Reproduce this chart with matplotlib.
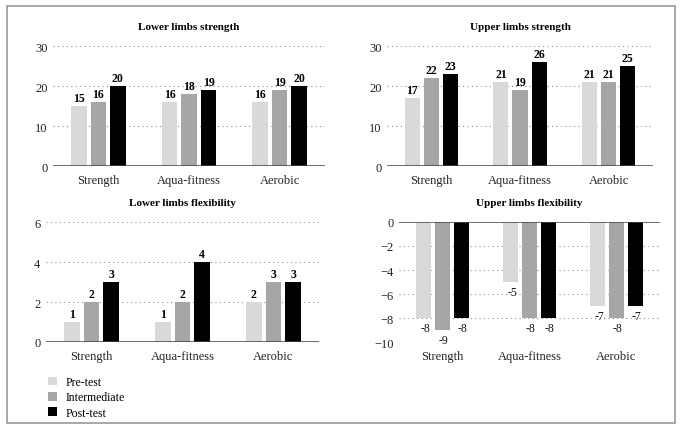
import matplotlib
matplotlib.use("Agg")
import matplotlib.pyplot as plt
from matplotlib.patches import Patch, Rectangle
import numpy as np

plt.rcParams['font.family'] = ['Liberation Serif', 'DejaVu Serif']

categories = ['Strength', 'Aqua-fitness', 'Aerobic']
series_names = ['Pre-test', 'Intermediate', 'Post-test']
colors = ['#d9d9d9', '#a6a6a6', '#000000']

lower_strength = [[15, 16, 16], [16, 18, 19], [20, 19, 20]]
upper_strength = [[17, 21, 21], [22, 19, 21], [23, 26, 25]]
lower_flex = [[1, 1, 2], [2, 2, 3], [3, 4, 3]]
upper_flex = [[-8, -5, -7], [-9, -8, -8], [-8, -8, -7]]

W, H = 683, 431
fig = plt.figure(figsize=(W / 100, H / 100), dpi=100)


def px_axes(left, right, top, bottom):
    return fig.add_axes([left / W, (H - bottom) / H, (right - left) / W, (bottom - top) / H])


def panel(ax, title, data, ylim, yticks, negative=False):
    x = np.arange(len(categories))
    width = 0.17
    step = 0.215
    for i, vals in enumerate(data):
        bars = ax.bar(x + (i - 1) * step, vals, width, color=colors[i], zorder=3)
        for b, v in zip(bars, vals):
            cx = b.get_x() + b.get_width() / 2
            if negative:
                ax.annotate(str(v), (cx, v), xytext=(1, -3), textcoords='offset points',
                            ha='center', va='top', fontsize=8.5, color='#111111')
            else:
                ax.annotate(str(v), (cx, v), xytext=(0, 1.5), textcoords='offset points',
                            ha='center', va='bottom', fontsize=8.5, fontweight='bold')
    ax.set_xlim(-0.5, 2.5)
    ax.set_ylim(*ylim)
    ax.set_yticks(yticks)
    ax.set_xticks(x)
    ax.set_xticklabels(categories)
    for s in ax.spines.values():
        s.set_visible(False)
    for t in yticks:
        if t != 0:
            ax.axhline(t, color='#8c8c8c', lw=0.8, linestyle=(0, (1, 3)), zorder=1)
    ax.axhline(0, color='#444444', lw=1.1, zorder=4)
    ax.tick_params(length=0, labelsize=9, colors='#222222')
    ax.tick_params(axis='x', pad=6)
    ax.tick_params(axis='y', pad=4)
    ax.set_title(title, fontsize=8, fontweight='bold', pad=12)


ax1 = px_axes(53, 325, 47, 167)
panel(ax1, 'Lower limbs strength', lower_strength, (0, 30), [0, 10, 20, 30])

ax2 = px_axes(387, 653, 47, 167)
panel(ax2, 'Upper limbs strength', upper_strength, (0, 30), [0, 10, 20, 30])

ax3 = px_axes(46, 319, 223, 343)
panel(ax3, 'Lower limbs flexibility', lower_flex, (0, 6), [0, 2, 4, 6])

ax4 = px_axes(399, 660, 223, 343)
panel(ax4, 'Upper limbs flexibility', upper_flex, (-10, 0), [0, -2, -4, -6, -8, -10], negative=True)

handles = [Patch(facecolor=c, edgecolor='none') for c in colors]
fig.legend(handles, series_names, loc='upper left', bbox_to_anchor=(48 / W, (H - 377) / H),
           frameon=False, fontsize=8.5, handlelength=0.75, handleheight=0.75,
           handletextpad=0.7, labelspacing=0.28, borderpad=0, borderaxespad=0)

fig.patches.append(Rectangle((7 / W, 7 / H), 668 / W, 417 / H, transform=fig.transFigure,
                             fill=False, edgecolor='#a0a0a0', lw=1.3))

fig.savefig('out.png', dpi=100)
